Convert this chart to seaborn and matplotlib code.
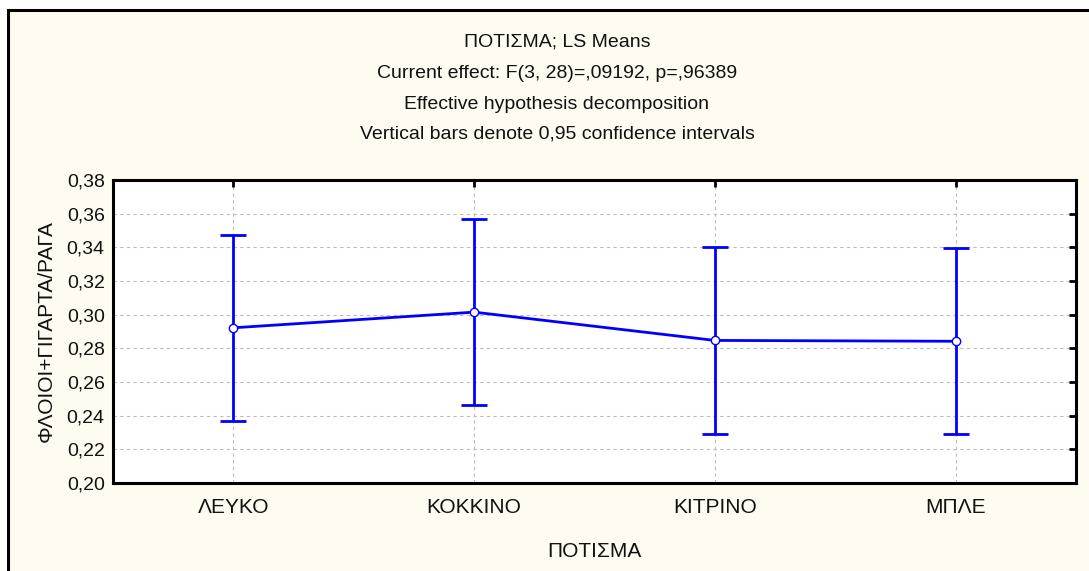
import matplotlib
matplotlib.use("Agg")
import matplotlib.pyplot as plt
import seaborn as sns
import pandas as pd
from matplotlib.patches import Rectangle

categories = ["ΛΕΥΚΟ", "ΚΟΚΚΙΝΟ", "ΚΙΤΡΙΝΟ", "ΜΠΛΕ"]
means = [0.2922, 0.3015, 0.2847, 0.2842]
ci_low = [0.2368, 0.2461, 0.2293, 0.2289]
ci_high = [0.3475, 0.3568, 0.3400, 0.3394]
y_ticks = [0.20, 0.22, 0.24, 0.26, 0.28, 0.30, 0.32, 0.34, 0.36, 0.38]
y_tick_labels = ["0,20", "0,22", "0,24", "0,26", "0,28", "0,30", "0,32", "0,34", "0,36", "0,38"]
title_lines = [
    "ΠΟΤΙΣΜΑ; LS Means",
    "Current effect: F(3, 28)=,09192, p=,96389",
    "Effective hypothesis decomposition",
    "Vertical bars denote 0,95 confidence intervals",
]
x_label = "ΠΟΤΙΣΜΑ"
y_label = "ΦΛΟΙΟΙ+ΓΙΓΑΡΤΑ/ΡΑΓΑ"

sns.set_style("white")
plt.rcParams['font.family'] = ['Liberation Sans', 'DejaVu Sans']

W, H = 1089, 571
fig = plt.figure(figsize=(W / 100, H / 100), dpi=100)
fig.patch.set_facecolor("white")

# cream panel with black frame (left/top edges visible)
bg = Rectangle((8 / W, -0.1), 1.2, 1 - 10 / H + 0.1, transform=fig.transFigure,
               facecolor="#FFFBF0", edgecolor="black", linewidth=2.2, zorder=-10)
fig.patches.append(bg)

ax = fig.add_axes([113 / W, 1 - 483 / H, (1076 - 113) / W, (483 - 180) / H])
ax.set_facecolor("white")

df = pd.DataFrame({"cat": categories, "mean": means, "lo": ci_low, "hi": ci_high})
xpos = list(range(len(categories)))
err_lo = [m - l for m, l in zip(means, ci_low)]
err_hi = [h - m for m, h in zip(means, ci_high)]

ax.errorbar(xpos, means, yerr=[err_lo, err_hi], fmt="none", ecolor="#0000FF",
            elinewidth=2.0, capsize=9.5, capthick=2.0, zorder=3)
sns.lineplot(data=df, x=xpos, y="mean", ax=ax, color="#0000FF", linewidth=2.0,
             marker="o", markersize=6, markerfacecolor="white",
             markeredgecolor="#0000FF", markeredgewidth=1.0, sort=False, zorder=4)

ax.set_xlim(-0.5, 3.5)
ax.set_ylim(0.20, 0.38)
ax.set_xticks(xpos)
ax.set_xticklabels(categories)
ax.set_yticks(y_ticks)
ax.set_yticklabels(y_tick_labels)

ax.grid(True, color="#BBBBBB", linestyle=(0, (3, 3)), linewidth=0.8)
ax.set_axisbelow(True)
for s in ax.spines.values():
    s.set_visible(True)
    s.set_color("black")
    s.set_linewidth(2.2)

ax.tick_params(axis="both", direction="in", length=5, width=2, color="black",
               top=True, right=True, labelsize=14, labelcolor="#111111")
ax.tick_params(axis="x", pad=11, labelsize=15)
ax.tick_params(axis="y", pad=6)

ax.set_xlabel(x_label, fontsize=15, labelpad=18, color="#111111")
ax.set_ylabel(y_label, fontsize=15, labelpad=8, color="#111111")

ys = [42, 73, 104, 134]
for t, yy in zip(title_lines, ys):
    fig.text(557 / W, 1 - yy / H, t, ha="center", va="center", fontsize=14,
             color="#111111")

fig.savefig("out.png", dpi=100)
